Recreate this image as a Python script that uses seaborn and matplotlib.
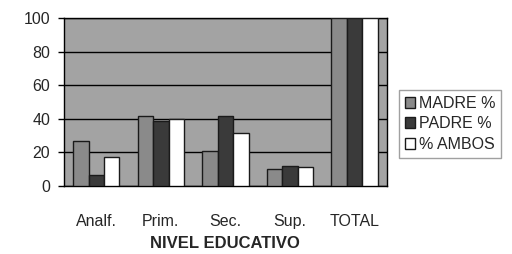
import pandas as pd
import matplotlib.pyplot as plt
import seaborn as sns

# Data
niveles = ['Analf.', 'Prim.', 'Sec.', 'Sup.', 'TOTAL']
madre = [27, 42, 21, 10, 100]
padre = [6.5, 39, 42, 12, 100]
ambos = [17, 40, 31.5, 11, 100]
series = ['MADRE %', 'PADRE %', '% AMBOS']

df = pd.DataFrame({
    'nivel': niveles * 3,
    'valor': madre + padre + ambos,
    'serie': [series[0]] * 5 + [series[1]] * 5 + [series[2]] * 5,
})

sns.set_style('white')
plt.rcParams['font.family'] = ['Liberation Sans', 'DejaVu Sans']

fig = plt.figure(figsize=(5.12, 2.54), dpi=100)
ax = fig.add_axes([0.125, 0.268, 0.63, 0.66])

palette = ['#8a8a8a', '#3a3a3a', '#ffffff']
sns.barplot(data=df, x='nivel', y='valor', hue='serie', palette=palette,
            edgecolor='#1a1a1a', linewidth=1.0, width=0.72, ax=ax, zorder=3)

ax.set_facecolor('#a3a3a3')
ax.set_ylim(0, 100)
ax.set_yticks(range(0, 101, 20))
ax.yaxis.grid(True, color='black', linewidth=1.0, zorder=0)
ax.set_axisbelow(True)
for s in ax.spines.values():
    s.set_color('black')
    s.set_linewidth(1.0)

# category dividers on the x axis
ax.set_xticks([i - 0.5 for i in range(6)], minor=True)
ax.tick_params(axis='x', which='minor', length=5, color='black', width=1)
ax.tick_params(axis='x', which='major', length=0, pad=20, labelsize=11.5)
ax.tick_params(axis='y', length=4, color='black', width=1, labelsize=11.5, left=True, pad=6)

ax.set_ylabel('')
ax.set_xlabel('NIVEL EDUCATIVO', fontsize=12, fontweight='bold', labelpad=5)

ax.legend(loc='center left', bbox_to_anchor=(1.04, 0.37), frameon=True,
          fancybox=False, edgecolor='#888888', fontsize=11.5,
          handlelength=0.65, handleheight=0.65, handletextpad=0.2,
          borderpad=0.35, labelspacing=0.35, borderaxespad=0)

fig.savefig('out.png', dpi=100, facecolor='white')
